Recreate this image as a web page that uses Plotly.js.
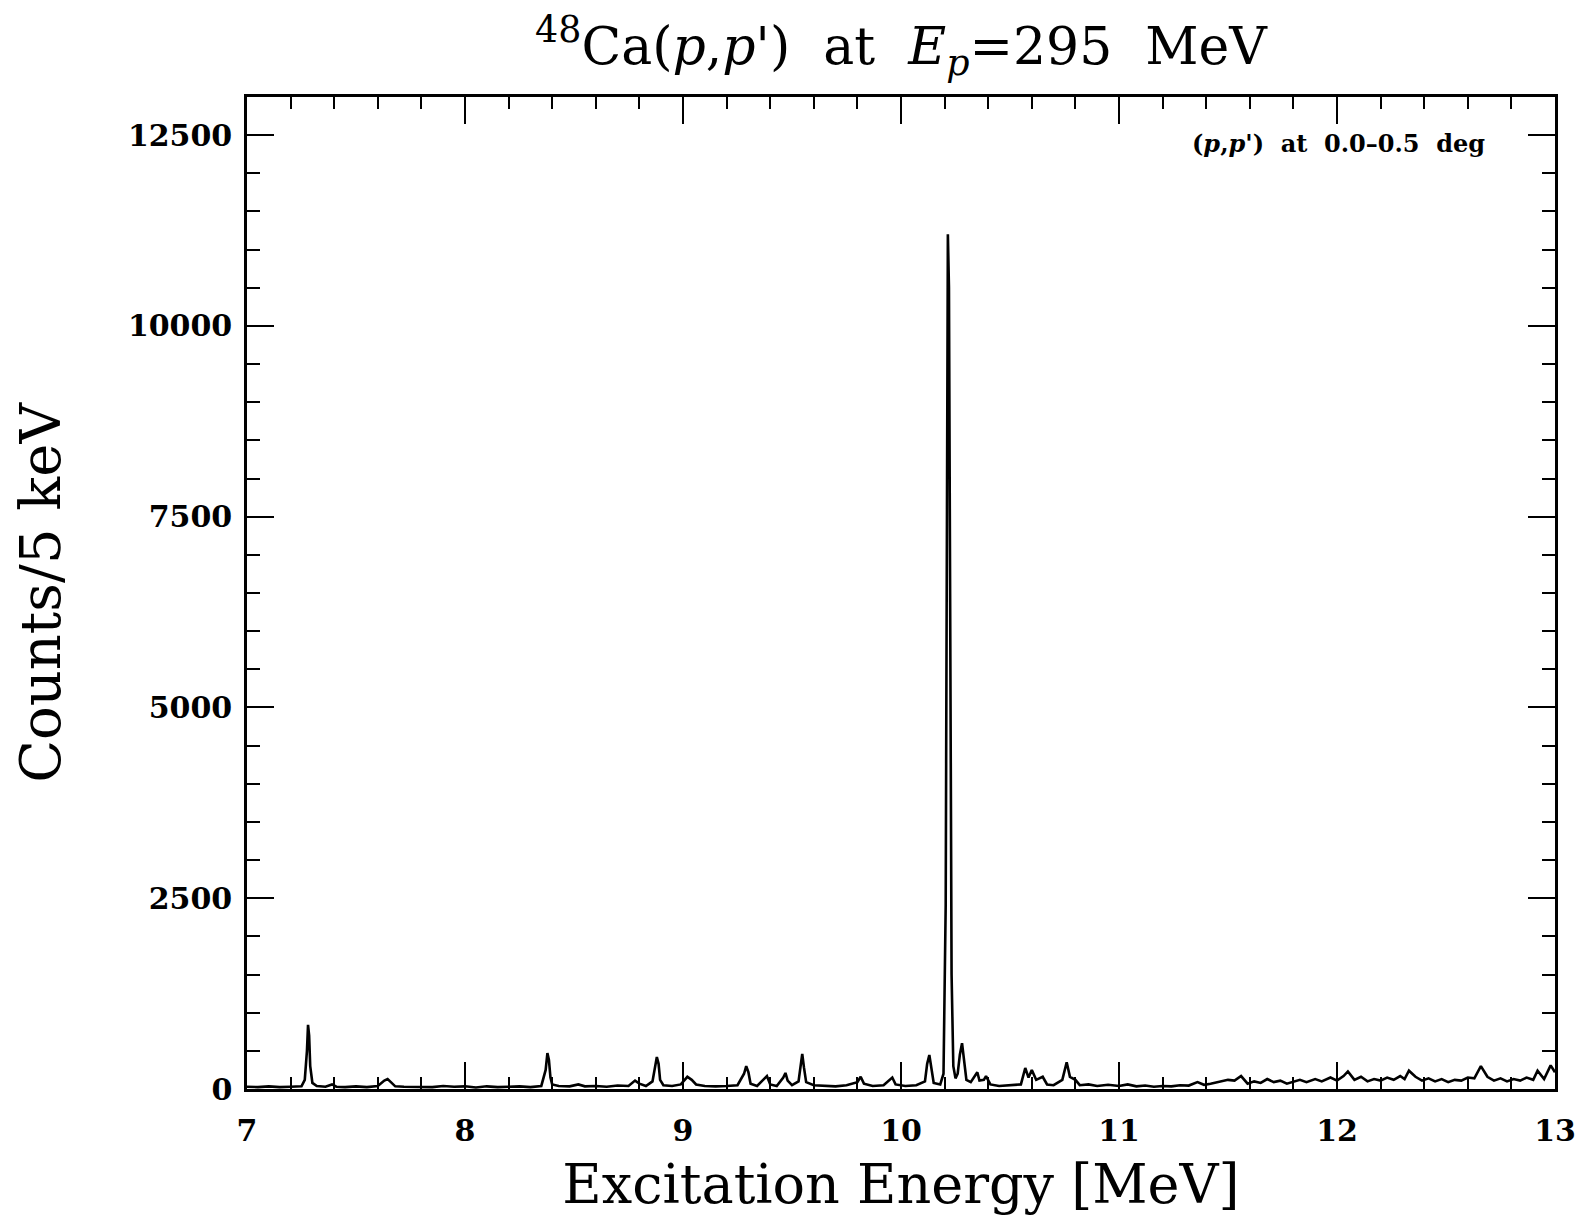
<!DOCTYPE html>
<html>
<head>
<meta charset="utf-8">
<script src="https://cdn.plot.ly/plotly-3.0.1.min.js"></script>
<style>html,body{margin:0;padding:0;background:#fff;}#chart{width:1582px;height:1217px;}</style>
</head>
<body>
<div id="chart"></div>
<script>
// Excitation energy [MeV] of the traced spectrum points
const energy = [
  7.000, 7.05, 7.10, 7.15, 7.20, 7.25, 7.265, 7.275, 7.280, 7.285, 7.290, 7.30, 7.32, 7.36, 7.39, 7.41,
  7.45, 7.50, 7.55, 7.60, 7.63, 7.645, 7.66, 7.68, 7.72, 7.80, 7.85, 7.90, 7.95, 8.00, 8.05, 8.10,
  8.15, 8.20, 8.25, 8.30, 8.35, 8.370, 8.378, 8.385, 8.392, 8.40, 8.43, 8.48, 8.52, 8.55, 8.60, 8.65,
  8.70, 8.75, 8.78, 8.80, 8.83, 8.86, 8.872, 8.880, 8.888, 8.895, 8.91, 8.95, 8.99, 9.02, 9.04, 9.06,
  9.10, 9.15, 9.20, 9.25, 9.28, 9.29, 9.30, 9.31, 9.34, 9.385, 9.40, 9.43, 9.46, 9.47, 9.48, 9.50,
  9.53, 9.540, 9.547, 9.555, 9.565, 9.60, 9.65, 9.70, 9.75, 9.80, 9.815, 9.83, 9.87, 9.92, 9.96, 9.975,
  10.02, 10.07, 10.11, 10.12, 10.13, 10.14, 10.15, 10.18, 10.195, 10.205, 10.210, 10.215, 10.220, 10.225, 10.232, 10.24,
  10.25, 10.26, 10.27, 10.28, 10.29, 10.30, 10.32, 10.35, 10.36, 10.38, 10.39, 10.41, 10.45, 10.50, 10.55, 10.57,
  10.585, 10.60, 10.62, 10.65, 10.67, 10.70, 10.74, 10.76, 10.775, 10.80, 10.82, 10.86, 10.90, 10.95, 11.00, 11.04,
  11.08, 11.12, 11.16, 11.20, 11.24, 11.28, 11.32, 11.36, 11.39, 11.42, 11.46, 11.50, 11.53, 11.56, 11.59, 11.62,
  11.65, 11.68, 11.71, 11.74, 11.77, 11.80, 11.83, 11.86, 11.90, 11.93, 11.97, 12.00, 12.03, 12.05, 12.08, 12.11,
  12.14, 12.17, 12.20, 12.23, 12.26, 12.29, 12.31, 12.33, 12.36, 12.39, 12.42, 12.45, 12.48, 12.51, 12.54, 12.57,
  12.60, 12.63, 12.66, 12.69, 12.72, 12.75, 12.78, 12.81, 12.84, 12.87, 12.90, 12.92, 12.95, 12.98, 13.00
];
// Counts per 5 keV at those energies
const counts = [
  30, 25, 35, 25, 30, 35, 120, 500, 840, 700, 300, 80, 40, 30, 60, 30,
  25, 35, 25, 40, 110, 130, 90, 35, 30, 30, 25, 40, 30, 35, 20, 35,
  25, 30, 35, 25, 40, 250, 470, 380, 150, 60, 40, 35, 60, 35, 40, 30,
  45, 40, 110, 70, 40, 100, 300, 420, 330, 120, 50, 40, 60, 160, 120, 60,
  40, 35, 40, 50, 200, 300, 220, 70, 40, 170, 60, 40, 150, 210, 110, 50,
  100, 350, 460, 280, 90, 50, 40, 35, 50, 90, 160, 70, 40, 50, 150, 60,
  40, 50, 100, 330, 445, 280, 80, 60, 200, 2400, 6800, 11200, 10500, 5800, 1500, 300,
  140, 200, 450, 600, 350, 120, 90, 220, 110, 120, 170, 60, 40, 50, 60, 275,
  150, 250, 120, 160, 60, 50, 120, 350, 160, 120, 50, 60, 40, 55, 40, 60,
  35, 45, 30, 40, 35, 50, 45, 90, 55, 70, 100, 120, 110, 170, 70, 100,
  80, 130, 90, 110, 70, 90, 120, 90, 130, 100, 150, 110, 170, 230, 120, 160,
  100, 130, 110, 150, 120, 170, 130, 240, 160, 110, 140, 100, 130, 90, 120, 110,
  150, 140, 300, 160, 110, 140, 100, 130, 110, 150, 120, 240, 130, 310, 220
];
const xTickVals = [7, 8, 9, 10, 11, 12, 13];
const yTickVals = [0, 2500, 5000, 7500, 10000, 12500];

const serif = '"DejaVu Serif", "Liberation Serif", serif';

const trace = {
  x: energy, y: counts, type: 'scatter', mode: 'lines',
  line: {color: '#000', width: 2.6},
  hoverinfo: 'x+y'
};

const axisCommon = {
  showline: true, linecolor: '#000', linewidth: 2.5, mirror: 'allticks',
  ticks: 'inside', ticklen: 27, tickwidth: 2, tickcolor: '#000',
  showgrid: false, zeroline: false,
  tickfont: {family: serif, size: 30, color: '#000', weight: 'bold'}
};

const layout = {
  width: 1582, height: 1217,
  paper_bgcolor: '#fff', plot_bgcolor: '#fff',
  margin: {l: 247, r: 27, t: 97, b: 128},
  showlegend: false,
  title: {
    text: "<sup>48</sup>Ca(<i>p</i>,<i>p'</i>)  at  <i>E</i><sub><i>p</i></sub>=295  MeV",
    font: {family: serif, size: 52, color: '#000'},
    x: 0.5, xref: 'paper', xanchor: 'center',
    y: 1 - 46 / 1217, yref: 'container', yanchor: 'middle'
  },
  xaxis: Object.assign({}, axisCommon, {
    range: [7, 13], tickvals: xTickVals, ticktext: xTickVals.map(String),
    minor: {dtick: 0.2, ticklen: 12, tickwidth: 2, tickcolor: '#000', ticks: 'inside', showgrid: false},
    ticklabelstandoff: 13,
    title: {text: 'Excitation Energy [MeV]', font: {family: serif, size: 54, color: '#000'}, standoff: 19}
  }),
  yaxis: Object.assign({}, axisCommon, {
    range: [0, 13000], tickvals: yTickVals, ticktext: yTickVals.map(String),
    minor: {dtick: 500, ticklen: 13, tickwidth: 2, tickcolor: '#000', ticks: 'inside', showgrid: false},
    ticklabelstandoff: 6,
    title: {text: 'Counts/5 keV', font: {family: serif, size: 56, color: '#000'}, standoff: 50}
  }),
  annotations: [{
    text: "<b>(<i>p</i>,<i>p'</i>)  at  0.0–0.5  deg</b>",
    xref: 'paper', yref: 'paper', x: 0.948, y: 0.953, xanchor: 'right', yanchor: 'middle',
    showarrow: false, font: {family: serif, size: 24, color: '#000'}
  }]
};

Plotly.newPlot('chart', [trace], layout, {displayModeBar: false, responsive: false});
</script>
</body>
</html>
